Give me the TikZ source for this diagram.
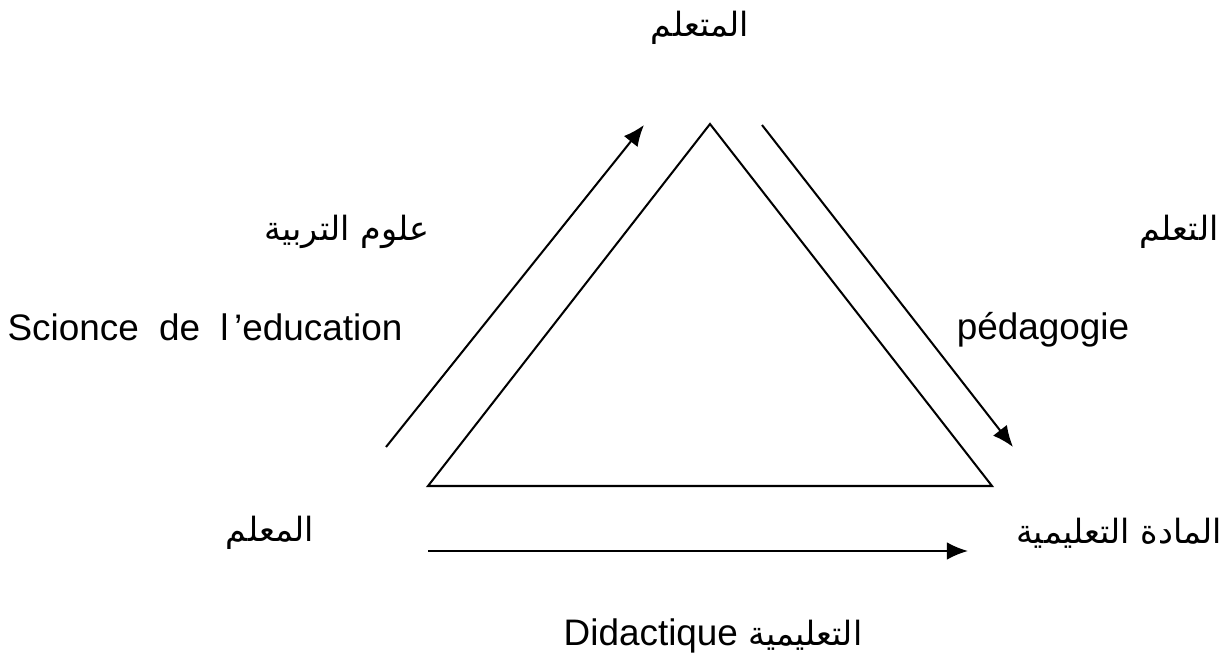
\documentclass[tikz,border=0pt]{standalone}
\usepackage{fontspec}
\setmainfont{Liberation Sans}
\newfontfamily\arabicfont[Script=Arabic]{DejaVu Sans}
\TeXXeTstate=1
\usetikzlibrary{arrows.meta}
\tikzset{>={Latex[length=12pt,width=10pt]}}

\begin{document}
\begin{tikzpicture}[x=0.02cm, y=-0.02cm, line width=1.15pt,
    lbl/.style={font=\fontsize{21}{25}\selectfont, inner sep=0pt},
    ar/.style={font=\arabicfont\fontsize{19}{25}\selectfont, inner sep=0pt}]
    \useasboundingbox (0,0) rectangle (1226,661);

    % triangle
    \coordinate (top) at (710,124);
    \coordinate (left) at (428,486);
    \coordinate (right) at (992,486);
    \draw (top) -- (left) -- (right) -- cycle;

    % arrows round it
    \coordinate (a1) at (386,447);
    \coordinate (a2) at (644,125);
    \coordinate (b1) at (762,125);
    \coordinate (b2) at (1013,447);
    \coordinate (c1) at (428,551);
    \coordinate (c2) at (968,551);
    \draw [->] (a1) -- (a2);
    \draw [->] (b1) -- (b2);
    \draw [->] (c1) -- (c2);

    % labels
    \node at (700,28) [ar](learner){\beginR المتعلم\endR};
    \node at (347,232) [ar](sciAr){\beginR علوم التربية\endR};
    \node at (205,327) [lbl](sci){Scionce\hspace{0.55em}de\hspace{0.55em}l\hspace{0.15em}’education};
    \node at (1179,232) [ar](learnAr){\beginR التعلم\endR};
    \node at (1043,330) [lbl](ped){pédagogie};
    \node at (270,533) [ar](teacher){\beginR المعلم\endR};
    \node at (1119,533) [ar](subject){\beginR المادة التعليمية\endR};
    \node at (713,636) [lbl](did){Didactique {\arabicfont\fontsize{19}{25}\selectfont\beginR التعليمية\endR}};
\end{tikzpicture}
\end{document}
